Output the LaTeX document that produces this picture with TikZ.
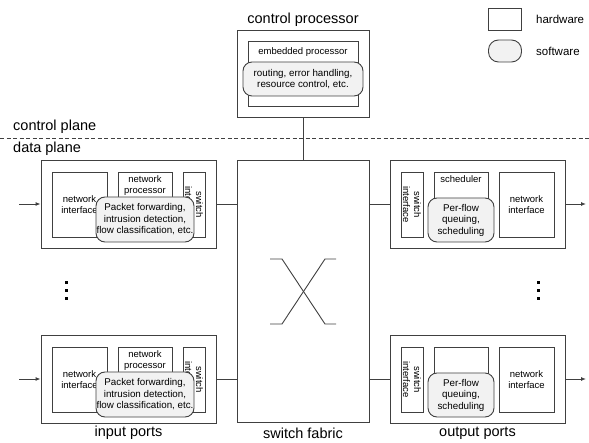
\documentclass[tikz,border=0pt]{standalone}
\usepackage{fontspec}
\setmainfont{Liberation Sans}
\usepackage{xcolor}
\usetikzlibrary{arrows.meta}

\definecolor{linegray}{HTML}{404040}
\definecolor{swgray}{HTML}{F2F2F2}

\tikzset{
  hwbox/.style={draw=linegray, line width=0.9pt, inner sep=0pt, align=center,
    font=\fontsize{9.5}{11}\selectfont},
  swbox/.style={draw=linegray, line width=0.9pt, fill=swgray, rounded corners=9pt,
    inner sep=0pt, align=center, font=\fontsize{9.8}{11.5}\selectfont},
  hwtext/.style={inner sep=0pt, align=center, font=\fontsize{9.5}{11}\selectfont},
  title/.style={inner sep=0pt, font=\fontsize{14.5}{17}\selectfont},
  legendtext/.style={inner sep=0pt, anchor=west, font=\fontsize{11.5}{13}\selectfont},
  wire/.style={draw=linegray, line width=0.9pt},
  flow/.style={wire, -{Latex[length=5pt,width=4pt]}}
}

\begin{document}
\begin{tikzpicture}[x=1pt, y=-1pt]
  \useasboundingbox (0,0) rectangle (589,443);

  % legend
  \node[hwbox, minimum width=33pt, minimum height=22pt] (lghw) at (505,19) {};
  \node[legendtext] (lghwtext) at (536,19) {hardware};
  \node[swbox, minimum width=33pt, minimum height=22pt, rounded corners=10pt] (lgsw) at (505,51) {};
  \node[legendtext] (lgswtext) at (536,51) {software};

  % control processor
  \node[title] (cptitle) at (303,20) {control processor};
  \node[hwbox, minimum width=132pt, minimum height=87pt] (cp) at (303,73.5) {};
  \node[hwbox, minimum width=110pt, minimum height=65pt] (emb) at (303,73.5) {};
  \node[hwtext] (embtext) at (303,52) {embedded processor};
  \node[swbox, minimum width=120pt, minimum height=34pt] (cpsw) at (303,79)
    {routing, error handling,\\resource control, etc.};

  % planes
  \node[title, anchor=west] (cplane) at (13,127) {control plane};
  \node[title, anchor=west] (dplane) at (13,149) {data plane};
  \draw[wire, dash pattern=on 4pt off 2.5pt] (0,138) -- (589,138);

  % switch fabric
  \node[hwbox, minimum width=132pt, minimum height=262pt] (fabric) at (303,291) {};
  \node[title] (fabrictext) at (303,433) {switch fabric};
  \draw[wire] (270,259) -- (282,259) -- (325,324) -- (336,324);
  \draw[wire] (270,324) -- (282,324) -- (325,259) -- (336,259);
  \draw[wire] (cp.south) -- (fabric.north);

  % ports
  \foreach \i/\t in {1/160,2/335} {
    % input port
    \node[hwbox, minimum width=175pt, minimum height=88pt] (in\i) at (128.5,\t+44) {};
    \node[hwbox, minimum width=55pt, minimum height=65pt] (inni\i) at (79.5,\t+44.5) {network\\interface};
    \node[hwbox, minimum width=54pt, minimum height=65pt] (innp\i) at (145,\t+44.5) {};
    \node[hwtext, anchor=north] (innptext\i) at (145,\t+15) {network\\processor};
    \node[hwbox, minimum width=22pt, minimum height=65pt] (insi\i) at (194,\t+44.5) {};
    \node[hwtext, rotate=-90] (insitext\i) at (194,\t+44.5) {switch\\interface};
    \node[swbox, minimum width=98pt, minimum height=45pt] (insw\i) at (145,\t+59.5)
      {Packet forwarding,\\intrusion detection,\\flow classification, etc.};
    % output port
    \node[hwbox, minimum width=175pt, minimum height=88pt] (out\i) at (477.5,\t+44) {};
    \node[hwbox, minimum width=22pt, minimum height=65pt] (outsi\i) at (412,\t+44.5) {};
    \node[hwtext, rotate=-90] (outsitext\i) at (412,\t+44.5) {switch\\interface};
    \node[hwbox, minimum width=54pt, minimum height=65pt] (outsch\i) at (461,\t+44.5) {};
    \node[hwbox, minimum width=55pt, minimum height=65pt] (outni\i) at (526.5,\t+44.5) {network\\interface};
    \node[swbox, minimum width=66pt, minimum height=44pt] (outsw\i) at (461,\t+60)
      {Per-flow\\queuing,\\scheduling};
    % links
    \coordinate (src\i) at (19,\t+44);
    \coordinate (dst\i) at (586,\t+44);
    \draw[flow] (src\i) -- (in\i.west);
    \draw[wire] (in\i.east) -- (in\i.east -| fabric.west);
    \draw[wire] (fabric.east |- out\i.west) -- (out\i.west);
    \draw[flow] (out\i.east) -- (dst\i);
  }
  \node[hwtext, anchor=north] (schedtext) at (461,175.5) {scheduler};

  \node[title] (inlabel) at (128.5,433) {input ports};
  \node[title] (outlabel) at (477.5,433) {output ports};

  % dots
  \foreach \d in {283,291,299} {
    \fill (64.5,\d-1.5) rectangle +(3,3);
    \fill (536.5,\d-1.5) rectangle +(3,3);
  }
\end{tikzpicture}
\end{document}
